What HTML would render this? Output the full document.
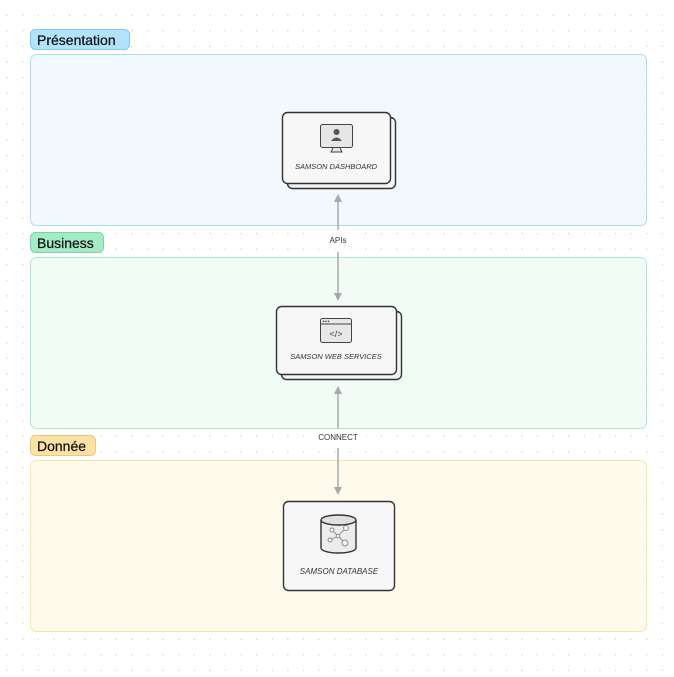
<!DOCTYPE html>
<html><head><meta charset="utf-8"><style>
html,body{margin:0;padding:0;background:#fff}
svg{display:block}
text{font-family:"Liberation Sans","DejaVu Sans",sans-serif}
</style></head><body>
<svg width="674" height="677" viewBox="0 0 674 677" xmlns="http://www.w3.org/2000/svg">
<defs>
<pattern id="dots" x="6" y="14" width="15.6" height="15.6" patternUnits="userSpaceOnUse">
<rect x="0.5" y="0.5" width="1.2" height="1.2" fill="#c8c8c8"/>
</pattern>
<marker id="ah" markerWidth="8" markerHeight="8" refX="4" refY="4" orient="auto-start-reverse" markerUnits="userSpaceOnUse">
<path d="M0,0 L8,4 L0,8 Z" fill="#a8a8a8"/>
</marker>
</defs>
<rect width="674" height="677" fill="url(#dots)"/>

<rect x="30.5" y="54.5" width="616" height="171" rx="6" fill="#f1f9fe" stroke="#a6dcf5"/>
<rect x="30.5" y="257.5" width="616" height="171" rx="6" fill="#f0fcf5" stroke="#a6ecc8"/>
<rect x="30.5" y="460.5" width="616" height="171" rx="6" fill="#fffbec" stroke="#fbe3a6"/>

<rect x="30.5" y="29.5" width="99" height="20" rx="5" fill="#b3e3fb" stroke="#82c6ea"/>
<text x="37" y="45" font-size="14" fill="#111" stroke="#111" stroke-width="0.25">Présentation</text>
<rect x="30.5" y="232.5" width="73" height="20" rx="5" fill="#a3ecc6" stroke="#7cd4a6"/>
<text x="37" y="248" font-size="14" fill="#111" stroke="#111" stroke-width="0.25">Business</text>
<rect x="30.5" y="435.5" width="65" height="20" rx="5" fill="#fde2a6" stroke="#ecc57a"/>
<text x="37" y="451" font-size="14" fill="#111" stroke="#111" stroke-width="0.25">Donnée</text>

<rect x="318" y="231" width="42" height="18" fill="#fff"/>
<line x1="338" y1="198" x2="338" y2="230" stroke="#a8a8a8" stroke-width="1.5" marker-start="url(#ah)"/>
<line x1="338" y1="252" x2="338" y2="297" stroke="#a8a8a8" stroke-width="1.5" marker-end="url(#ah)"/>
<text x="338" y="243" font-size="8" text-anchor="middle" fill="#333">APIs</text>

<rect x="310" y="429" width="56" height="18" fill="#fff"/>
<line x1="338" y1="390" x2="338" y2="428" stroke="#a8a8a8" stroke-width="1.5" marker-start="url(#ah)"/>
<line x1="338" y1="448" x2="338" y2="491" stroke="#a8a8a8" stroke-width="1.5" marker-end="url(#ah)"/>
<text x="338" y="440" font-size="8" text-anchor="middle" fill="#333">CONNECT</text>

<rect x="287.5" y="117.5" width="108" height="71" rx="5" fill="#f4f4f4" stroke="#333" stroke-width="1.4"/>
<rect x="282.5" y="112.5" width="108" height="71" rx="5" fill="#f7f7f7" stroke="#333" stroke-width="1.4"/>
<rect x="320.5" y="124.5" width="32" height="23" rx="2" fill="#e6e6e6" stroke="#444"/>
<circle cx="336.5" cy="132" r="3" fill="#555"/>
<path d="M331,141 q5.5,-7 11,0 z" fill="#555"/>
<path d="M333,148 L331,152 L342,152 L340,148" fill="#e6e6e6" stroke="#444"/>
<text x="336" y="169" font-size="7.5" font-style="italic" text-anchor="middle" fill="#333">SAMSON DASHBOARD</text>

<rect x="281.5" y="311.5" width="120" height="68" rx="5" fill="#f4f4f4" stroke="#333" stroke-width="1.4"/>
<rect x="276.5" y="306.5" width="120" height="68" rx="5" fill="#f7f7f7" stroke="#333" stroke-width="1.4"/>
<rect x="320.5" y="318.5" width="31" height="24" rx="2" fill="#e8e8e8" stroke="#444"/>
<line x1="320.5" y1="324" x2="351.5" y2="324" stroke="#444"/>
<circle cx="323.5" cy="321.3" r="0.8" fill="#444"/><circle cx="326" cy="321.3" r="0.8" fill="#444"/><circle cx="328.5" cy="321.3" r="0.8" fill="#444"/>
<text x="336" y="337" font-size="9" text-anchor="middle" fill="#444">&lt;/&gt;</text>
<text x="336" y="359" font-size="7.5" font-style="italic" text-anchor="middle" fill="#333">SAMSON WEB SERVICES</text>

<rect x="283.5" y="501.5" width="111" height="89" rx="5" fill="#f7f7f7" stroke="#333" stroke-width="1.4"/>
<path d="M321,520 v28 a17.5,5 0 0 0 35,0 v-28" fill="#ececec" stroke="#333" stroke-width="1.4"/>
<ellipse cx="338.5" cy="520" rx="17.5" ry="5" fill="#e0e0e0" stroke="#333" stroke-width="1.4"/>
<g stroke="#888" fill="#f4f4f4" stroke-width="0.9">
<line x1="332" y1="530" x2="338" y2="536"/><line x1="338" y1="536" x2="346" y2="528"/><line x1="338" y1="536" x2="330" y2="540"/><line x1="338" y1="536" x2="345" y2="543"/>
<circle cx="332" cy="530" r="2"/><circle cx="346" cy="528" r="2.5"/><circle cx="330" cy="540" r="2"/><circle cx="345" cy="543" r="3"/><circle cx="338" cy="536" r="1.8"/>
</g>
<text x="339" y="574" font-size="8" font-style="italic" text-anchor="middle" fill="#333">SAMSON DATABASE</text>
</svg>
</body></html>
